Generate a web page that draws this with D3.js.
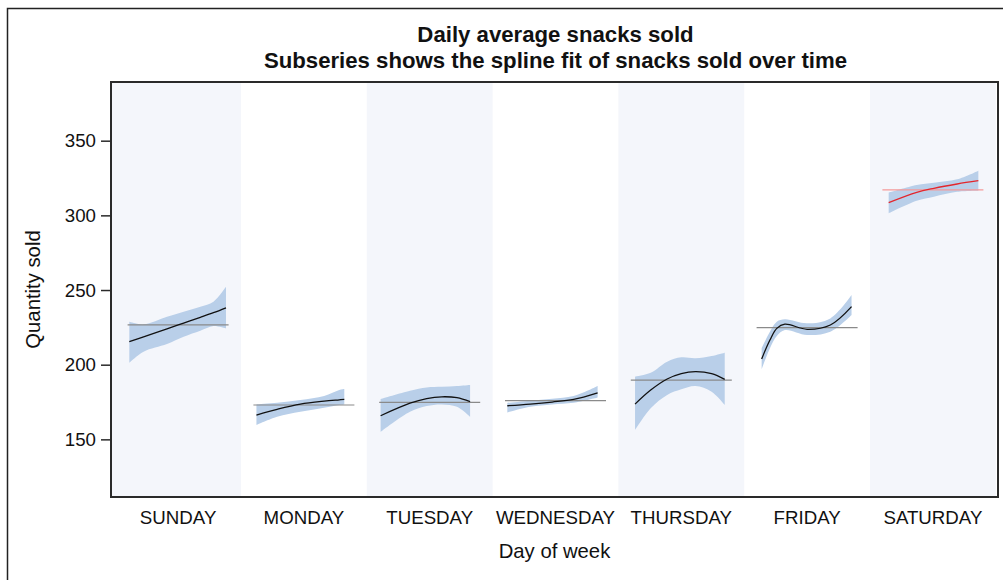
<!DOCTYPE html>
<html>
<head>
<meta charset="utf-8">
<script src="https://cdn.jsdelivr.net/npm/d3@7/dist/d3.min.js"></script>
<style>
  html, body { margin: 0; padding: 0; background: #fff; }
  svg { display: block; font-family: "Liberation Sans", Arial, sans-serif; }
</style>
</head>
<body>
<svg id="chart" width="1003" height="580"></svg>
<script>
// Days of the week (x categories)
const days = ["SUNDAY", "MONDAY", "TUESDAY", "WEDNESDAY", "THURSDAY", "FRIDAY", "SATURDAY"];

// Daily average quantity sold (horizontal reference line in each subseries)
const dailyMean = [226.6, 173.0, 174.8, 175.9, 189.7, 224.8, 317.0];

// Spline fit over time within each day: [time fraction, fit, lower CL, upper CL]
const sundayFit = [
  [0.017, 215.4, 201.3, 228.8], [0.158, 218.6, 208.7, 227.0], [0.39, 224.0, 213.8, 232.1],
  [0.555, 227.9, 218.7, 235.5], [0.72, 231.7, 222.7, 238.8], [0.85, 234.8, 225.9, 242.2],
  [0.974, 238.1, 224.3, 252.2]
];
const mondayFit = [
  [0.03, 166.3, 159.6, 173.4], [0.235, 170.1, 165.1, 174.5], [0.465, 173.6, 168.5, 176.3],
  [0.70, 175.6, 171.2, 179.0], [0.85, 176.5, 173.0, 183.0], [0.90, 176.8, 173.4, 183.7]
];
const tuesdayFit = [
  [0.014, 165.8, 155.0, 177.0], [0.305, 174.2, 168.5, 182.6], [0.47, 177.3, 172.3, 184.8],
  [0.62, 178.5, 173.4, 185.2], [0.77, 177.9, 171.8, 185.7], [0.90, 175.2, 165.1, 186.4]
];
const wednesdayFit = [
  [0.023, 172.5, 168.0, 174.5], [0.25, 173.6, 171.8, 175.9], [0.467, 175.0, 173.4, 177.2],
  [0.68, 176.8, 174.5, 179.0], [0.917, 181.2, 178.0, 185.7]
];
const thursdayFit = [
  [0.042, 173.6, 156.2, 192.0], [0.197, 183.0, 170.8, 194.6], [0.36, 190.4, 179.7, 202.0],
  [0.50, 194.0, 183.5, 204.9], [0.64, 195.3, 185.7, 204.3], [0.80, 194.0, 181.9, 205.8],
  [0.93, 190.2, 173.0, 208.0]
];
const fridayFit = [
  [0.05, 203.8, 196.9, 211.0], [0.132, 216.5, 211.0, 222.1], [0.20, 224.3, 219.2, 228.8],
  [0.28, 227.1, 223.2, 230.4], [0.50, 223.7, 219.9, 227.7], [0.73, 226.6, 222.1, 231.0],
  [0.94, 238.9, 233.3, 246.6]
];
const saturdayFit = [
  [0.062, 308.5, 301.4, 315.2], [0.34, 315.4, 309.8, 320.3], [0.51, 318.1, 312.5, 321.9],
  [0.74, 321.0, 315.8, 324.1], [0.95, 323.2, 316.5, 329.9]
];
const subseries = [sundayFit, mondayFit, tuesdayFit, wednesdayFit, thursdayFit, fridayFit, saturdayFit];

// Y axis ticks
const yTicks = [150, 200, 250, 300, 350];

const titleLines = ["Daily average snacks sold", "Subseries shows the spline fit of snacks sold over time"];

// ---- layout ----
const svg = d3.select("#chart");
const plot = { left: 111, right: 998, top: 82, bottom: 497 };

const x = d3.scaleBand().domain(days).range([115.2, 995.8]).padding(0);
const y = d3.scaleLinear().domain([111.4, 389.3]).range([plot.bottom, plot.top]);

// outer frame
svg.append("rect")
  .attr("x", 7.5).attr("y", 8.5).attr("width", 1010).attr("height", 600)
  .attr("fill", "none").attr("stroke", "#222").attr("stroke-width", 1.5);

// alternating day bands
const g = svg.append("g");
days.forEach((d, i) => {
  if (i % 2 !== 0) return;
  const x0 = i === 0 ? plot.left : x(d);
  const x1 = x(d) + x.bandwidth();
  g.append("rect")
    .attr("x", x0).attr("y", plot.top)
    .attr("width", x1 - x0).attr("height", plot.bottom - plot.top)
    .attr("fill", "#f4f6fb");
});

// subseries: confidence band, mean reference, spline fit
const smooth = d3.curveCatmullRom.alpha(0.5);
days.forEach((d, i) => {
  const c = x(d) + x.bandwidth() / 2;
  const xi = d3.scaleLinear().domain([0, 1]).range([c - 50.5, c + 50.5]);
  const pts = subseries[i];
  const isSat = d === "SATURDAY";

  const area = d3.area()
    .x(p => xi(p[0])).y0(p => y(p[2])).y1(p => y(p[3]))
    .curve(smooth);
  g.append("path").attr("d", area(pts)).attr("fill", "#b9cfe9");

  g.append("line")
    .attr("x1", xi(0)).attr("x2", xi(1))
    .attr("y1", y(dailyMean[i])).attr("y2", y(dailyMean[i]))
    .attr("stroke", isSat ? "#f59a9a" : "#8a8a8a").attr("stroke-width", 1.2);

  const line = d3.line().x(p => xi(p[0])).y(p => y(p[1])).curve(smooth);
  g.append("path").attr("d", line(pts))
    .attr("fill", "none").attr("stroke", isSat ? "#e3262c" : "#111").attr("stroke-width", 1.3);
});

// plot frame
svg.append("rect")
  .attr("x", plot.left).attr("y", plot.top)
  .attr("width", plot.right - plot.left).attr("height", plot.bottom - plot.top)
  .attr("fill", "none").attr("stroke", "#2a2a2a").attr("stroke-width", 2);

const font = "'Liberation Sans', Arial, sans-serif";

// y axis
const yAxis = svg.append("g")
  .attr("transform", `translate(${plot.left},0)`)
  .call(d3.axisLeft(y).tickValues(yTicks).tickSize(10).tickPadding(5));
yAxis.select(".domain").remove();
yAxis.selectAll(".tick line").attr("stroke", "#2a2a2a").attr("stroke-width", 1.5);
yAxis.selectAll(".tick text").attr("font-size", 18.7).attr("fill", "#111")
  .attr("font-family", font);

// x axis labels
const xAxis = svg.append("g")
  .attr("transform", `translate(0,${plot.bottom})`)
  .call(d3.axisBottom(x).tickSize(0).tickPadding(14));
xAxis.select(".domain").remove();
xAxis.selectAll(".tick text").attr("font-size", 18.7).attr("fill", "#111")
  .attr("font-family", font);

// axis titles
svg.append("text")
  .attr("x", (plot.left + plot.right) / 2).attr("y", 558)
  .attr("text-anchor", "middle").attr("font-size", 20.3).attr("fill", "#111")
  .text("Day of week");
svg.append("text")
  .attr("transform", `translate(40,${(plot.top + plot.bottom) / 2}) rotate(-90)`)
  .attr("text-anchor", "middle").attr("font-size", 20.3).attr("fill", "#111")
  .text("Quantity sold");

// titles
titleLines.forEach((t, i) => {
  svg.append("text")
    .attr("x", (plot.left + plot.right) / 2 + 1).attr("y", 42 + i * 26)
    .attr("text-anchor", "middle").attr("font-size", 22.2).attr("font-weight", "bold")
    .attr("fill", "#111").text(t);
});
</script>
</body>
</html>
